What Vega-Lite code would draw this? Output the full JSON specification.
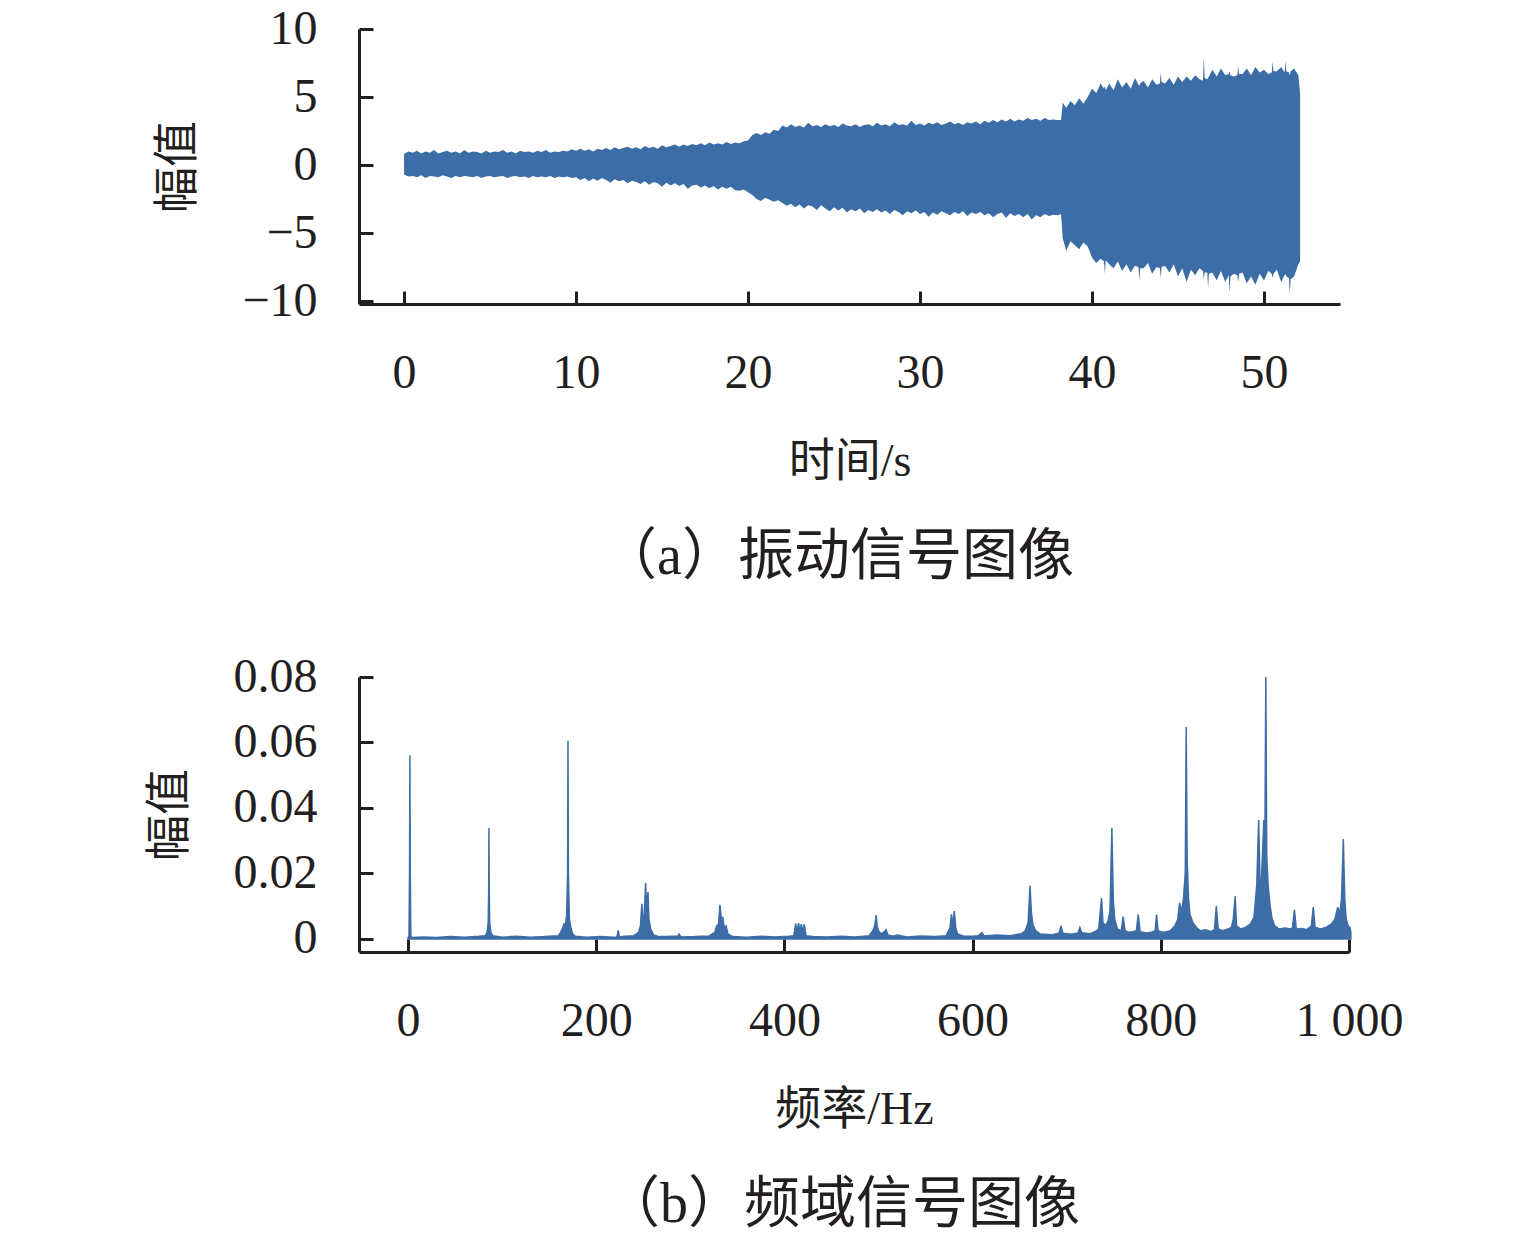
{
  "$schema": "https://vega.github.io/schema/vega-lite/v6.json",
  "padding": {"left": 146, "top": 5, "right": 10, "bottom": 5},
  "background": "white",
  "spacing": 68,
  "datasets": {
    "signal": [
      {"t": 0, "hi": 0.8, "lo": -0.7}, {"t": 0.25, "hi": 1.0, "lo": -0.85}, {"t": 0.5, "hi": 0.9, "lo": -0.8}, {"t": 0.75, "hi": 1.05, "lo": -0.9},
      {"t": 1, "hi": 0.85, "lo": -0.75}, {"t": 1.25, "hi": 1.0, "lo": -0.95}, {"t": 1.5, "hi": 0.9, "lo": -0.8}, {"t": 1.75, "hi": 1.1, "lo": -0.85},
      {"t": 2, "hi": 0.85, "lo": -0.9}, {"t": 2.25, "hi": 0.95, "lo": -0.75}, {"t": 2.5, "hi": 1.05, "lo": -0.85}, {"t": 2.75, "hi": 0.9, "lo": -0.95},
      {"t": 3, "hi": 1.0, "lo": -0.8}, {"t": 3.25, "hi": 0.85, "lo": -0.9}, {"t": 3.5, "hi": 1.1, "lo": -0.8}, {"t": 3.75, "hi": 0.9, "lo": -0.85},
      {"t": 4, "hi": 1.0, "lo": -0.9}, {"t": 4.25, "hi": 0.95, "lo": -0.8}, {"t": 4.5, "hi": 0.85, "lo": -0.95}, {"t": 4.75, "hi": 1.05, "lo": -0.85},
      {"t": 5, "hi": 0.9, "lo": -0.8}, {"t": 5.25, "hi": 1.0, "lo": -0.9}, {"t": 5.5, "hi": 0.95, "lo": -0.85}, {"t": 5.75, "hi": 1.1, "lo": -0.8},
      {"t": 6, "hi": 0.9, "lo": -0.95}, {"t": 6.25, "hi": 1.0, "lo": -0.85}, {"t": 6.5, "hi": 0.85, "lo": -0.8}, {"t": 6.75, "hi": 1.05, "lo": -0.9},
      {"t": 7, "hi": 0.95, "lo": -0.85}, {"t": 7.25, "hi": 1.0, "lo": -0.95}, {"t": 7.5, "hi": 0.9, "lo": -0.8}, {"t": 7.75, "hi": 1.05, "lo": -0.9},
      {"t": 8, "hi": 0.95, "lo": -0.85}, {"t": 8.25, "hi": 1.1, "lo": -0.9}, {"t": 8.5, "hi": 0.9, "lo": -0.8}, {"t": 8.75, "hi": 1.0, "lo": -0.95},
      {"t": 9, "hi": 0.95, "lo": -0.85}, {"t": 9.25, "hi": 1.05, "lo": -0.9}, {"t": 9.5, "hi": 1.0, "lo": -0.85}, {"t": 9.75, "hi": 1.15, "lo": -0.95},
      {"t": 10, "hi": 1.05, "lo": -0.9}, {"t": 10.25, "hi": 1.2, "lo": -1.1}, {"t": 10.5, "hi": 1.05, "lo": -0.95}, {"t": 10.75, "hi": 1.15, "lo": -1.2},
      {"t": 11, "hi": 1.0, "lo": -1.0}, {"t": 11.25, "hi": 1.2, "lo": -1.15}, {"t": 11.5, "hi": 1.1, "lo": -0.95}, {"t": 11.75, "hi": 1.25, "lo": -1.1},
      {"t": 12, "hi": 1.1, "lo": -1.3}, {"t": 12.25, "hi": 1.3, "lo": -1.05}, {"t": 12.5, "hi": 1.15, "lo": -1.2}, {"t": 12.75, "hi": 1.25, "lo": -1.1},
      {"t": 13, "hi": 1.35, "lo": -1.35}, {"t": 13.25, "hi": 1.2, "lo": -1.15}, {"t": 13.5, "hi": 1.3, "lo": -1.25}, {"t": 13.75, "hi": 1.15, "lo": -1.4},
      {"t": 14, "hi": 1.4, "lo": -1.2}, {"t": 14.25, "hi": 1.25, "lo": -1.45}, {"t": 14.5, "hi": 1.35, "lo": -1.25}, {"t": 14.75, "hi": 1.2, "lo": -1.35},
      {"t": 15, "hi": 1.45, "lo": -1.6}, {"t": 15.25, "hi": 1.3, "lo": -1.3}, {"t": 15.5, "hi": 1.4, "lo": -1.5}, {"t": 15.75, "hi": 1.5, "lo": -1.35},
      {"t": 16, "hi": 1.35, "lo": -1.55}, {"t": 16.25, "hi": 1.5, "lo": -1.4}, {"t": 16.5, "hi": 1.4, "lo": -1.75}, {"t": 16.75, "hi": 1.55, "lo": -1.5},
      {"t": 17, "hi": 1.45, "lo": -1.45}, {"t": 17.25, "hi": 1.6, "lo": -1.65}, {"t": 17.5, "hi": 1.45, "lo": -1.5}, {"t": 17.75, "hi": 1.65, "lo": -1.7},
      {"t": 18, "hi": 1.5, "lo": -1.55}, {"t": 18.25, "hi": 1.6, "lo": -1.8}, {"t": 18.5, "hi": 1.5, "lo": -1.6}, {"t": 18.75, "hi": 1.7, "lo": -1.75},
      {"t": 19, "hi": 1.55, "lo": -1.6}, {"t": 19.25, "hi": 1.65, "lo": -1.85}, {"t": 19.5, "hi": 1.6, "lo": -1.9}, {"t": 19.75, "hi": 1.75, "lo": -1.8},
      {"t": 20, "hi": 1.8, "lo": -2.0}, {"t": 20.25, "hi": 2.2, "lo": -2.2}, {"t": 20.5, "hi": 2.35, "lo": -2.5}, {"t": 20.75, "hi": 2.2, "lo": -2.65},
      {"t": 21, "hi": 2.4, "lo": -2.4}, {"t": 21.25, "hi": 2.3, "lo": -2.55}, {"t": 21.5, "hi": 2.6, "lo": -2.7}, {"t": 21.75, "hi": 2.5, "lo": -2.6},
      {"t": 22, "hi": 2.9, "lo": -2.8}, {"t": 22.25, "hi": 2.75, "lo": -3.0}, {"t": 22.5, "hi": 3.0, "lo": -2.85}, {"t": 22.75, "hi": 2.8, "lo": -3.1},
      {"t": 23, "hi": 2.9, "lo": -2.9}, {"t": 23.25, "hi": 2.75, "lo": -3.2}, {"t": 23.5, "hi": 3.1, "lo": -2.95}, {"t": 23.75, "hi": 2.85, "lo": -3.05},
      {"t": 24, "hi": 2.95, "lo": -3.3}, {"t": 24.25, "hi": 2.8, "lo": -2.95}, {"t": 24.5, "hi": 3.0, "lo": -3.2}, {"t": 24.75, "hi": 2.85, "lo": -3.4},
      {"t": 25, "hi": 2.95, "lo": -3.1}, {"t": 25.25, "hi": 2.8, "lo": -3.35}, {"t": 25.5, "hi": 3.05, "lo": -3.15}, {"t": 25.75, "hi": 2.9, "lo": -3.5},
      {"t": 26, "hi": 2.85, "lo": -3.25}, {"t": 26.25, "hi": 3.0, "lo": -3.4}, {"t": 26.5, "hi": 2.8, "lo": -3.2}, {"t": 26.75, "hi": 2.95, "lo": -3.55},
      {"t": 27, "hi": 3.0, "lo": -3.3}, {"t": 27.25, "hi": 2.85, "lo": -3.45}, {"t": 27.5, "hi": 3.1, "lo": -3.25}, {"t": 27.75, "hi": 2.9, "lo": -3.5},
      {"t": 28, "hi": 3.0, "lo": -3.35}, {"t": 28.25, "hi": 2.85, "lo": -3.6}, {"t": 28.5, "hi": 3.15, "lo": -3.3}, {"t": 28.75, "hi": 2.95, "lo": -3.45},
      {"t": 29, "hi": 3.0, "lo": -3.7}, {"t": 29.25, "hi": 2.9, "lo": -3.4}, {"t": 29.5, "hi": 3.25, "lo": -3.55}, {"t": 29.75, "hi": 2.95, "lo": -3.35},
      {"t": 30, "hi": 3.05, "lo": -3.6}, {"t": 30.25, "hi": 2.9, "lo": -3.45}, {"t": 30.5, "hi": 3.1, "lo": -3.8}, {"t": 30.75, "hi": 3.0, "lo": -3.5},
      {"t": 31, "hi": 3.15, "lo": -3.65}, {"t": 31.25, "hi": 2.95, "lo": -3.4}, {"t": 31.5, "hi": 3.05, "lo": -3.55}, {"t": 31.75, "hi": 3.2, "lo": -3.7},
      {"t": 32, "hi": 3.0, "lo": -3.45}, {"t": 32.25, "hi": 3.1, "lo": -3.6}, {"t": 32.5, "hi": 2.95, "lo": -3.4}, {"t": 32.75, "hi": 3.15, "lo": -3.75},
      {"t": 33, "hi": 3.05, "lo": -3.5}, {"t": 33.25, "hi": 3.2, "lo": -3.6}, {"t": 33.5, "hi": 3.0, "lo": -3.45}, {"t": 33.75, "hi": 3.25, "lo": -3.7},
      {"t": 34, "hi": 3.1, "lo": -3.55}, {"t": 34.25, "hi": 3.3, "lo": -3.85}, {"t": 34.5, "hi": 3.15, "lo": -3.6}, {"t": 34.75, "hi": 3.35, "lo": -3.5},
      {"t": 35, "hi": 3.2, "lo": -3.9}, {"t": 35.25, "hi": 3.4, "lo": -3.55}, {"t": 35.5, "hi": 3.2, "lo": -3.75}, {"t": 35.75, "hi": 3.35, "lo": -3.6},
      {"t": 36, "hi": 3.25, "lo": -3.85}, {"t": 36.25, "hi": 3.45, "lo": -3.6}, {"t": 36.5, "hi": 3.3, "lo": -4.0}, {"t": 36.75, "hi": 3.4, "lo": -3.7},
      {"t": 37, "hi": 3.25, "lo": -3.85}, {"t": 37.25, "hi": 3.45, "lo": -3.6}, {"t": 37.5, "hi": 3.3, "lo": -3.75}, {"t": 37.75, "hi": 3.35, "lo": -3.65},
      {"t": 38, "hi": 3.3, "lo": -3.7}, {"t": 38.2, "hi": 3.3, "lo": -3.6}, {"t": 38.3, "hi": 4.6, "lo": -5.4}, {"t": 38.5, "hi": 4.2, "lo": -6.3},
      {"t": 38.75, "hi": 4.7, "lo": -5.6}, {"t": 39, "hi": 4.4, "lo": -5.9}, {"t": 39.25, "hi": 4.9, "lo": -6.2}, {"t": 39.5, "hi": 4.5, "lo": -5.7},
      {"t": 39.75, "hi": 5.0, "lo": -6.0}, {"t": 40, "hi": 5.6, "lo": -6.8}, {"t": 40.25, "hi": 5.3, "lo": -7.2}, {"t": 40.5, "hi": 6.0, "lo": -6.9},
      {"t": 40.7, "hi": 5.6, "lo": -7.1}, {"t": 40.75, "hi": 5.8, "lo": -8.0}, {"t": 40.8, "hi": 5.5, "lo": -7.0}, {"t": 41, "hi": 6.0, "lo": -7.3},
      {"t": 41.25, "hi": 5.5, "lo": -7.6}, {"t": 41.5, "hi": 6.3, "lo": -7.1}, {"t": 41.75, "hi": 5.7, "lo": -7.8}, {"t": 42, "hi": 6.1, "lo": -7.3},
      {"t": 42.25, "hi": 5.6, "lo": -7.9}, {"t": 42.5, "hi": 6.4, "lo": -7.4}, {"t": 42.7, "hi": 5.9, "lo": -7.5}, {"t": 42.75, "hi": 5.8, "lo": -8.5},
      {"t": 42.8, "hi": 6.0, "lo": -7.6}, {"t": 43, "hi": 6.2, "lo": -7.6}, {"t": 43.25, "hi": 5.7, "lo": -7.2}, {"t": 43.5, "hi": 6.3, "lo": -8.0},
      {"t": 43.75, "hi": 5.9, "lo": -7.5}, {"t": 43.95, "hi": 6.0, "lo": -7.6}, {"t": 44, "hi": 6.8, "lo": -8.3}, {"t": 44.05, "hi": 6.1, "lo": -7.5},
      {"t": 44.25, "hi": 6.0, "lo": -7.4}, {"t": 44.5, "hi": 6.4, "lo": -7.9}, {"t": 44.75, "hi": 5.9, "lo": -7.3}, {"t": 45, "hi": 6.5, "lo": -8.2},
      {"t": 45.25, "hi": 6.1, "lo": -7.6}, {"t": 45.5, "hi": 6.5, "lo": -8.6}, {"t": 45.75, "hi": 6.2, "lo": -7.7}, {"t": 46, "hi": 6.6, "lo": -8.1},
      {"t": 46.25, "hi": 6.3, "lo": -7.6}, {"t": 46.45, "hi": 6.2, "lo": -7.8}, {"t": 46.5, "hi": 7.9, "lo": -8.4}, {"t": 46.55, "hi": 6.4, "lo": -7.9},
      {"t": 46.7, "hi": 6.3, "lo": -7.9}, {"t": 46.75, "hi": 6.4, "lo": -9.0}, {"t": 46.8, "hi": 6.5, "lo": -8.0}, {"t": 47, "hi": 7.0, "lo": -7.9},
      {"t": 47.25, "hi": 6.5, "lo": -8.5}, {"t": 47.5, "hi": 7.1, "lo": -7.8}, {"t": 47.75, "hi": 6.6, "lo": -8.6}, {"t": 47.95, "hi": 6.7, "lo": -8.1},
      {"t": 48, "hi": 6.9, "lo": -9.4}, {"t": 48.05, "hi": 6.6, "lo": -8.2}, {"t": 48.25, "hi": 6.5, "lo": -8.0}, {"t": 48.45, "hi": 6.6, "lo": -8.1},
      {"t": 48.5, "hi": 7.3, "lo": -8.6}, {"t": 48.55, "hi": 6.7, "lo": -8.0}, {"t": 48.75, "hi": 6.7, "lo": -7.9}, {"t": 49, "hi": 7.1, "lo": -8.7},
      {"t": 49.25, "hi": 6.6, "lo": -8.2}, {"t": 49.5, "hi": 7.2, "lo": -8.8}, {"t": 49.75, "hi": 6.8, "lo": -8.0}, {"t": 50, "hi": 7.0, "lo": -8.5},
      {"t": 50.25, "hi": 6.7, "lo": -7.8}, {"t": 50.45, "hi": 6.8, "lo": -8.0}, {"t": 50.5, "hi": 7.6, "lo": -8.3}, {"t": 50.55, "hi": 6.9, "lo": -8.0},
      {"t": 50.75, "hi": 6.9, "lo": -7.7}, {"t": 51, "hi": 7.2, "lo": -8.6}, {"t": 51.2, "hi": 6.8, "lo": -8.1}, {"t": 51.25, "hi": 7.65, "lo": -8.0},
      {"t": 51.3, "hi": 6.9, "lo": -8.2}, {"t": 51.45, "hi": 6.8, "lo": -8.3}, {"t": 51.5, "hi": 6.6, "lo": -9.5}, {"t": 51.55, "hi": 6.9, "lo": -8.4},
      {"t": 51.75, "hi": 7.1, "lo": -8.2}, {"t": 52, "hi": 6.6, "lo": -7.3}, {"t": 52.1, "hi": 5.2, "lo": -7.1}
    ],
    "spectrum": [
      {"f": 0, "a": 0.0004}, {"f": 1, "a": 0.0008}, {"f": 1.6, "a": 0.02}, {"f": 2, "a": 0.0561}, {"f": 2.4, "a": 0.02}, {"f": 3, "a": 0.001},
      {"f": 4, "a": 0.0004}, {"f": 15, "a": 0.0006}, {"f": 30, "a": 0.0004}, {"f": 45, "a": 0.0007}, {"f": 60, "a": 0.0005}, {"f": 75, "a": 0.0008},
      {"f": 82, "a": 0.001}, {"f": 84, "a": 0.002}, {"f": 85.2, "a": 0.005}, {"f": 85.7, "a": 0.014}, {"f": 86, "a": 0.0339}, {"f": 86.3, "a": 0.014},
      {"f": 86.8, "a": 0.005}, {"f": 88, "a": 0.002}, {"f": 90, "a": 0.001}, {"f": 100, "a": 0.0005}, {"f": 115, "a": 0.0008}, {"f": 130, "a": 0.0005},
      {"f": 145, "a": 0.0007}, {"f": 160, "a": 0.001}, {"f": 164, "a": 0.003}, {"f": 165.5, "a": 0.0045}, {"f": 167, "a": 0.004}, {"f": 168.5, "a": 0.007},
      {"f": 169.6, "a": 0.02}, {"f": 170, "a": 0.0605}, {"f": 170.4, "a": 0.02}, {"f": 171.5, "a": 0.006}, {"f": 173, "a": 0.0035}, {"f": 175, "a": 0.0015},
      {"f": 178, "a": 0.0008}, {"f": 190, "a": 0.0005}, {"f": 205, "a": 0.0007}, {"f": 218, "a": 0.0005}, {"f": 222, "a": 0.0006}, {"f": 223.5, "a": 0.0026},
      {"f": 224.5, "a": 0.0006}, {"f": 230, "a": 0.0008}, {"f": 240, "a": 0.001}, {"f": 245, "a": 0.002}, {"f": 247, "a": 0.004}, {"f": 248.5, "a": 0.0107},
      {"f": 249.5, "a": 0.006}, {"f": 251, "a": 0.0075}, {"f": 252.5, "a": 0.0171}, {"f": 253.5, "a": 0.009}, {"f": 255, "a": 0.0143}, {"f": 256, "a": 0.006},
      {"f": 258, "a": 0.003}, {"f": 261, "a": 0.0012}, {"f": 265, "a": 0.0008}, {"f": 275, "a": 0.0007}, {"f": 287, "a": 0.0009}, {"f": 288, "a": 0.0015},
      {"f": 290, "a": 0.0006}, {"f": 305, "a": 0.0007}, {"f": 320, "a": 0.0009}, {"f": 326, "a": 0.002}, {"f": 328, "a": 0.004}, {"f": 330, "a": 0.0045},
      {"f": 331.5, "a": 0.0104}, {"f": 333, "a": 0.006}, {"f": 334.5, "a": 0.0065}, {"f": 336, "a": 0.0035}, {"f": 338, "a": 0.004}, {"f": 340, "a": 0.0015},
      {"f": 345, "a": 0.0007}, {"f": 360, "a": 0.0005}, {"f": 375, "a": 0.0008}, {"f": 390, "a": 0.0006}, {"f": 405, "a": 0.0008}, {"f": 410, "a": 0.001},
      {"f": 412, "a": 0.0047}, {"f": 413.5, "a": 0.002}, {"f": 415, "a": 0.0048}, {"f": 416.5, "a": 0.0025}, {"f": 418, "a": 0.0045}, {"f": 419.5, "a": 0.002},
      {"f": 421, "a": 0.0044}, {"f": 423, "a": 0.001}, {"f": 430, "a": 0.0007}, {"f": 445, "a": 0.0006}, {"f": 460, "a": 0.0008}, {"f": 475, "a": 0.0006},
      {"f": 490, "a": 0.001}, {"f": 494, "a": 0.0025}, {"f": 496, "a": 0.004}, {"f": 497.5, "a": 0.0073}, {"f": 498.5, "a": 0.004}, {"f": 500, "a": 0.0025},
      {"f": 503, "a": 0.0015}, {"f": 506, "a": 0.0022}, {"f": 508, "a": 0.0028}, {"f": 510, "a": 0.0012}, {"f": 515, "a": 0.0008}, {"f": 520, "a": 0.0012},
      {"f": 530, "a": 0.0006}, {"f": 545, "a": 0.0009}, {"f": 560, "a": 0.0007}, {"f": 572, "a": 0.001}, {"f": 576, "a": 0.0035}, {"f": 577.5, "a": 0.0075},
      {"f": 579, "a": 0.004}, {"f": 580.5, "a": 0.0085}, {"f": 582, "a": 0.0035}, {"f": 584, "a": 0.0015}, {"f": 590, "a": 0.0009}, {"f": 600, "a": 0.0008},
      {"f": 606, "a": 0.001}, {"f": 610, "a": 0.0019}, {"f": 612, "a": 0.0009}, {"f": 625, "a": 0.0012}, {"f": 640, "a": 0.001}, {"f": 652, "a": 0.0016},
      {"f": 656, "a": 0.0025}, {"f": 659, "a": 0.005}, {"f": 661, "a": 0.0163}, {"f": 662.5, "a": 0.008}, {"f": 664, "a": 0.0045}, {"f": 667, "a": 0.0025},
      {"f": 672, "a": 0.0015}, {"f": 685, "a": 0.0013}, {"f": 692, "a": 0.0018}, {"f": 694, "a": 0.004}, {"f": 696, "a": 0.0017}, {"f": 705, "a": 0.0014},
      {"f": 712, "a": 0.0018}, {"f": 714, "a": 0.0035}, {"f": 716, "a": 0.0019}, {"f": 725, "a": 0.0016}, {"f": 732, "a": 0.0025}, {"f": 734, "a": 0.003},
      {"f": 737, "a": 0.0125}, {"f": 738.5, "a": 0.005}, {"f": 741, "a": 0.004}, {"f": 744, "a": 0.0055}, {"f": 746, "a": 0.0085}, {"f": 748, "a": 0.0339},
      {"f": 749.5, "a": 0.012}, {"f": 751, "a": 0.006}, {"f": 754, "a": 0.003}, {"f": 758, "a": 0.0025}, {"f": 760, "a": 0.0068}, {"f": 762, "a": 0.0025},
      {"f": 766, "a": 0.002}, {"f": 770, "a": 0.0022}, {"f": 774, "a": 0.0025}, {"f": 776, "a": 0.0075}, {"f": 778, "a": 0.0022}, {"f": 785, "a": 0.0018},
      {"f": 790, "a": 0.002}, {"f": 794, "a": 0.0025}, {"f": 795.5, "a": 0.0074}, {"f": 797, "a": 0.0025}, {"f": 803, "a": 0.002}, {"f": 810, "a": 0.0025},
      {"f": 815, "a": 0.004}, {"f": 818, "a": 0.006}, {"f": 820, "a": 0.011}, {"f": 822, "a": 0.0085}, {"f": 824, "a": 0.012}, {"f": 826, "a": 0.02},
      {"f": 827, "a": 0.0647}, {"f": 828, "a": 0.024}, {"f": 829.5, "a": 0.012}, {"f": 831, "a": 0.0075}, {"f": 834, "a": 0.005}, {"f": 838, "a": 0.0035},
      {"f": 842, "a": 0.0025}, {"f": 848, "a": 0.0028}, {"f": 853, "a": 0.0022}, {"f": 857, "a": 0.0028}, {"f": 859, "a": 0.01}, {"f": 861, "a": 0.003},
      {"f": 866, "a": 0.0025}, {"f": 871, "a": 0.003}, {"f": 875, "a": 0.0035}, {"f": 877, "a": 0.006}, {"f": 879, "a": 0.013}, {"f": 880.5, "a": 0.004},
      {"f": 885, "a": 0.003}, {"f": 890, "a": 0.0035}, {"f": 895, "a": 0.0045}, {"f": 899, "a": 0.0065}, {"f": 902, "a": 0.0165}, {"f": 904, "a": 0.0363},
      {"f": 905.5, "a": 0.0165}, {"f": 907, "a": 0.018}, {"f": 909.5, "a": 0.0363}, {"f": 910.5, "a": 0.022}, {"f": 911.6, "a": 0.08}, {"f": 912.6, "a": 0.025},
      {"f": 914, "a": 0.0166}, {"f": 916, "a": 0.0105}, {"f": 918, "a": 0.0065}, {"f": 921, "a": 0.004}, {"f": 926, "a": 0.003}, {"f": 932, "a": 0.0033},
      {"f": 938, "a": 0.003}, {"f": 940, "a": 0.0035}, {"f": 942, "a": 0.0089}, {"f": 944, "a": 0.003}, {"f": 950, "a": 0.0032}, {"f": 955, "a": 0.0028},
      {"f": 958, "a": 0.0035}, {"f": 960, "a": 0.004}, {"f": 962, "a": 0.0097}, {"f": 964, "a": 0.0035}, {"f": 970, "a": 0.003}, {"f": 976, "a": 0.0036},
      {"f": 981, "a": 0.0045}, {"f": 985, "a": 0.006}, {"f": 988, "a": 0.0097}, {"f": 990, "a": 0.0075}, {"f": 992, "a": 0.012}, {"f": 994, "a": 0.0305},
      {"f": 995.5, "a": 0.012}, {"f": 997, "a": 0.006}, {"f": 999, "a": 0.004}, {"f": 1001, "a": 0.0035}, {"f": 1002, "a": 0.002}
    ]
  },
  "vconcat": [
    {
      "width": 981,
      "height": 275,
      "title": {"text": "（a）振动信号图像"},
      "data": {"name": "signal"},
      "mark": {"type": "area", "color": "#3d6da6", "interpolate": "linear"},
      "encoding": {
        "x": {
          "field": "t",
          "type": "quantitative",
          "title": "时间/s",
          "scale": {"domain": [-2.62, 54.42], "nice": false, "zero": false},
          "axis": {"values": [0, 10, 20, 30, 40, 50]}
        },
        "y": {
          "field": "hi",
          "type": "quantitative",
          "title": "幅值",
          "scale": {"domain": [-10.22, 10], "nice": false},
          "axis": {"values": [-10, -5, 0, 5, 10]}
        },
        "y2": {"field": "lo"}
      }
    },
    {
      "width": 990,
      "height": 275,
      "title": {"text": "（b）频域信号图像"},
      "data": {"name": "spectrum"},
      "mark": {"type": "area", "color": "#3d6da6", "stroke": "#3d6da6", "strokeWidth": 1.5, "interpolate": "linear"},
      "encoding": {
        "x": {
          "field": "f",
          "type": "quantitative",
          "title": "频率/Hz",
          "scale": {"domain": [-52.1, 1000], "nice": false, "zero": false},
          "axis": {"values": [0, 200, 400, 600, 800, 1000], "labelExpr": "datum.value == 1000 ? '1 000' : datum.label"}
        },
        "y": {
          "field": "a",
          "type": "quantitative",
          "title": "幅值",
          "scale": {"domain": [-0.004, 0.08], "nice": false},
          "axis": {"values": [0, 0.02, 0.04, 0.06, 0.08], "labelExpr": "datum.value == 0 ? '0' : format(datum.value, '.2f')"}
        }
      }
    }
  ],
  "config": {
    "view": {"stroke": null},
    "axis": {
      "grid": false,
      "domainColor": "#231f20",
      "domainWidth": 3,
      "tickColor": "#231f20",
      "tickWidth": 3,
      "labelFont": "Liberation Serif",
      "labelFontSize": 48,
      "labelColor": "#231f20",
      "labelFlush": false,
      "labelOverlap": false,
      "titleFont": "Liberation Serif, Noto Sans CJK SC",
      "titleFontSize": 46,
      "titleFontWeight": "normal",
      "titleColor": "#231f20"
    },
    "axisX": {"tickSize": -13, "labelPadding": 58, "titlePadding": 42},
    "axisY": {"tickSize": -14, "labelPadding": 56, "titlePadding": 40},
    "title": {
      "font": "Liberation Serif, Noto Sans CJK SC",
      "fontSize": 56,
      "fontWeight": "normal",
      "color": "#231f20",
      "orient": "bottom",
      "anchor": "middle",
      "frame": "group",
      "offset": 46,
      "dx": -12
    }
  }
}
